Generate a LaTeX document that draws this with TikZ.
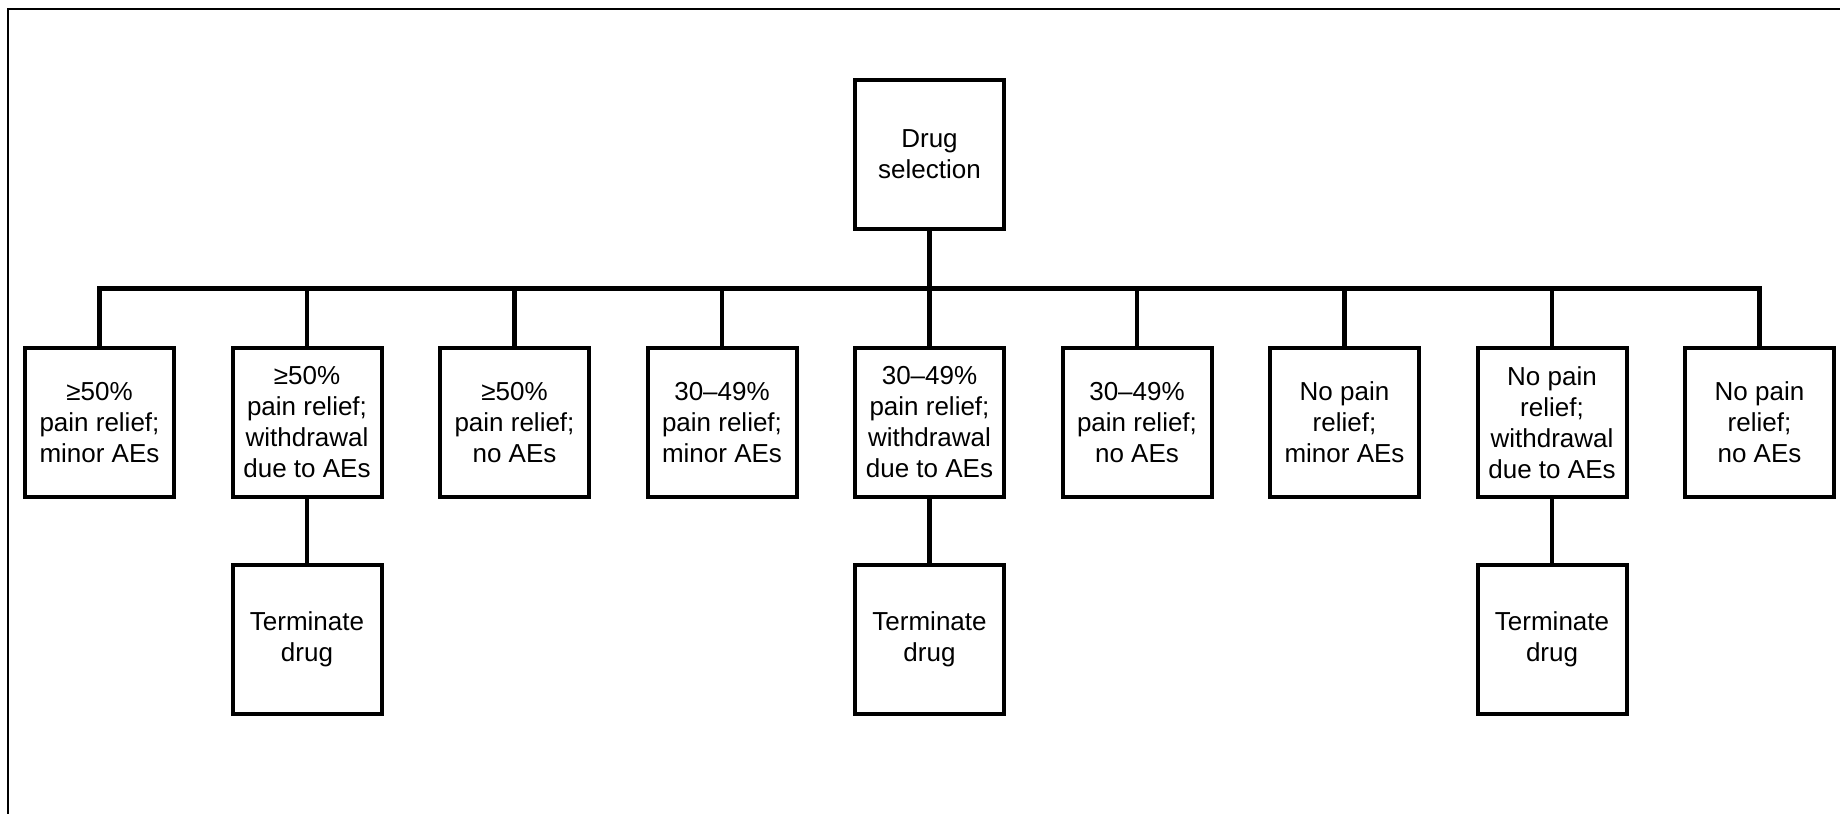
\documentclass[tikz,border=0pt]{standalone}
\usepackage{fontspec}
\setmainfont{Liberation Sans}
\usetikzlibrary{positioning,calc}

\begin{document}
\begin{tikzpicture}[node distance=27.25pt,
	box/.style={draw,line width=2pt,minimum width=74.5pt,minimum height=74.5pt,align=center,inner sep=0pt,font=\fontsize{13}{15.5}\selectfont},
	link/.style={line width=2.4pt}]
		\useasboundingbox (0,0) rectangle (920pt,-407pt);
		\draw[line width=1pt] (920pt,-4.5pt) -- (4pt,-4.5pt) -- (4pt,-407pt);

		% outcome row
		\node[box] at (49.75pt,-211.25pt) (himinor) {≥50\%\\pain relief;\\minor AEs};
		\node[box,right=of himinor] (hiwd) {≥50\%\\pain relief;\\withdrawal\\due to AEs};
		\node[box,right=of hiwd] (hinone) {≥50\%\\pain relief;\\no AEs};
		\node[box,right=of hinone] (midminor) {30–49\%\\pain relief;\\minor AEs};
		\node[box,right=of midminor] (midwd) {30–49\%\\pain relief;\\withdrawal\\due to AEs};
		\node[box,right=of midwd] (midnone) {30–49\%\\pain relief;\\no AEs};
		\node[box,right=of midnone] (nominor) {No pain\\relief;\\minor AEs};
		\node[box,right=of nominor] (nowd) {No pain\\relief;\\withdrawal\\due to AEs};
		\node[box,right=of nowd] (nonone) {No pain\\relief;\\no AEs};

		\node[box,above=57.5pt of midwd] (select) {Drug\\selection};

		\node[box,below=32pt of hiwd] (termhi) {Terminate\\drug};
		\node[box,below=32pt of midwd] (termmid) {Terminate\\drug};
		\node[box,below=32pt of nowd] (termno) {Terminate\\drug};

		% tree lines
		\coordinate (bus) at ($(select.south)!0.5!(midwd.north)$);
		\draw[link] (select.south) -- (bus);
		\draw[link] (himinor.north) |- (bus) -| (nonone.north);
		\foreach \n in {hiwd,hinone,midminor,midwd,midnone,nominor,nowd}
			\draw[link] (\n.north) -- (\n.north |- bus);
		\draw[link] (hiwd) -- (termhi);
		\draw[link] (midwd) -- (termmid);
		\draw[link] (nowd) -- (termno);
\end{tikzpicture}
\end{document}
